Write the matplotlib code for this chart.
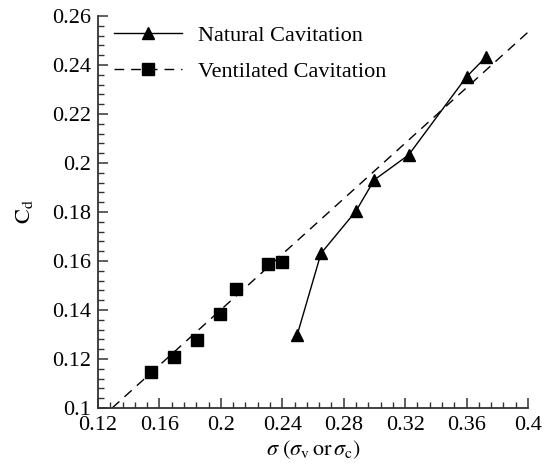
import numpy as np
import matplotlib
matplotlib.use("Agg")
import matplotlib.pyplot as plt
from matplotlib.ticker import MultipleLocator, FuncFormatter

# Data
nat_sigma = [0.2498, 0.2652, 0.2880, 0.2999, 0.3223, 0.3600, 0.3724]
nat_cd = [0.1300, 0.1631, 0.1804, 0.1931, 0.2033, 0.2352, 0.2431]
vent_sigma = [0.1543, 0.1695, 0.1847, 0.1994, 0.2098, 0.2305, 0.2400]
vent_cd = [0.1148, 0.1207, 0.1278, 0.1382, 0.1484, 0.1587, 0.1597]
fit_sigma = [0.1292, 0.4000]
fit_cd = [0.1000, 0.2534]

plt.rcParams['font.family'] = ['Liberation Serif', 'DejaVu Serif']
plt.rcParams['mathtext.fontset'] = 'stix'

fig = plt.figure(figsize=(5.53, 4.68), dpi=100)
ax = fig.add_axes([98/553, 60/468, 430/553, 392/468])

ax.plot(nat_sigma, nat_cd, '-', color='black', lw=1.0, marker='^', ms=9,
        label='Natural Cavitation', clip_on=False, zorder=3)
ax.plot(vent_sigma, vent_cd, ls='none', color='black', marker='s', ms=8,
        clip_on=False, zorder=3)
ax.plot(fit_sigma, fit_cd, '--', color='black', lw=1.0, dashes=(7, 5), zorder=2)
# legend proxy for ventilated
ax.plot([], [], '--', color='black', lw=1.0, dashes=(7, 5), marker='s', ms=8,
        label='Ventilated Cavitation')

ax.set_xlim(0.12, 0.4)
ax.set_ylim(0.1, 0.26)

ax.xaxis.set_major_locator(MultipleLocator(0.04))
ax.xaxis.set_minor_locator(MultipleLocator(0.008))
ax.yaxis.set_major_locator(MultipleLocator(0.02))
ax.yaxis.set_minor_locator(MultipleLocator(0.004))
fmt = FuncFormatter(lambda v, p: ('%.2f' % v).rstrip('0').rstrip('.'))
ax.xaxis.set_major_formatter(fmt)
ax.yaxis.set_major_formatter(fmt)

for s in ['top', 'right']:
    ax.spines[s].set_visible(False)
for s in ['left', 'bottom']:
    ax.spines[s].set_linewidth(1.3)
    ax.spines[s].set_color('#333333')

ax.tick_params(which='major', direction='in', length=7, width=1.1, labelsize=16,
               color='#333333')
ax.tick_params(axis='x', which='major', pad=6)
ax.tick_params(axis='y', which='major', pad=5)
ax.tick_params(which='minor', direction='in', length=4, width=1.0, color='#333333')

ax.set_xlabel(r'$\sigma\ (\sigma_{\mathrm{v}}\,\mathrm{or}\,\sigma_{\mathrm{c}})$', fontsize=16, labelpad=2)
ax.set_ylabel(r'$\mathrm{C}_{\mathrm{d}}$', fontsize=16, labelpad=12)

ax.legend(loc='upper left', bbox_to_anchor=(0.0, 1.015), frameon=False, fontsize=16,
          handlelength=3.1, handletextpad=0.7, labelspacing=0.68, borderaxespad=0.3)

fig.savefig('out.png', dpi=100)
